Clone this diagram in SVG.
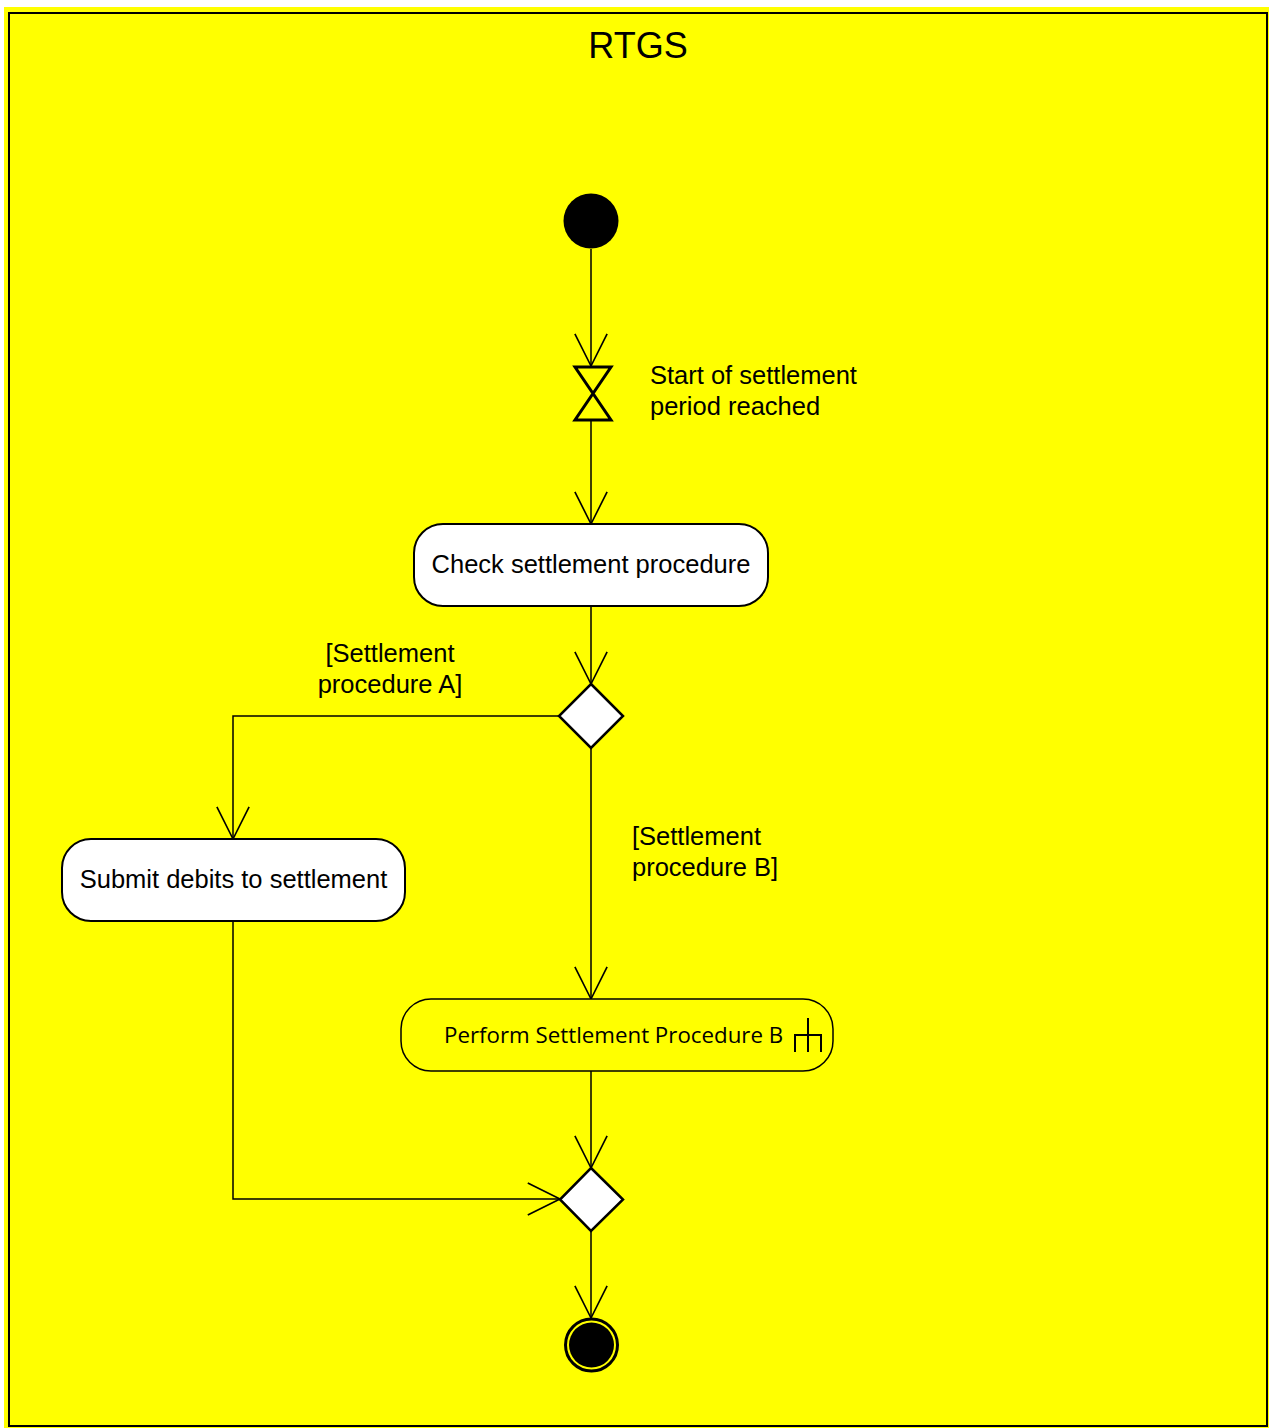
<svg xmlns="http://www.w3.org/2000/svg" width="1269" height="1428" viewBox="0 0 1269 1428">
<style>
.lbl{font-family:"Liberation Sans",Arial,sans-serif;font-size:25.5px;fill:#000}
.act{fill:#fff;stroke:#000;stroke-width:2}
.dec{fill:#fff;stroke:#000;stroke-width:2.5}
.conn{fill:none;stroke:#000;stroke-width:1.5;marker-end:url(#arr)}
</style>
<defs>
<marker id="arr" markerUnits="userSpaceOnUse" markerWidth="40" markerHeight="40" viewBox="-32 -18 36 36" refX="0" refY="0" orient="auto">
<path d="M-29,-14.5 L0,0 L-29,14.5" fill="none" stroke="#000" stroke-width="1.5"/>
</marker>
</defs>
<rect x="0" y="0" width="1269" height="1428" fill="#fff"/>
<g id="frame">
<rect x="4" y="7" width="1265" height="1421" fill="#ffff00"/>
<rect x="9" y="13" width="1258" height="1413" fill="none" stroke="#000" stroke-width="2"/>
<text x="638" y="58" class="lbl" style="font-size:36px" text-anchor="middle">RTGS</text>
</g>
<g id="connectors">
<path class="conn" d="M591,249 V366"/>
<path class="conn" d="M591,421 V524"/>
<path class="conn" d="M591,606 V684"/>
<path class="conn" d="M559,716 H233 V839"/>
<path class="conn" d="M591,748 V999"/>
<path class="conn" d="M233,921 V1199 H560"/>
<path class="conn" d="M591,1071 V1168"/>
<path class="conn" d="M591,1231 V1318"/>
</g>
<g id="start">
<circle cx="591" cy="221" r="27.5" fill="#000"/>
</g>
<g id="timer">
<path d="M575,367 H611 L575,420 H611 Z" fill="none" stroke="#000" stroke-width="3" stroke-linejoin="miter"/>
<text class="lbl" x="650" y="384">Start of settlement</text>
<text class="lbl" x="650" y="415">period reached</text>
</g>
<g id="check">
<rect class="act" x="414" y="524" width="354" height="82" rx="29" ry="29"/>
<text class="lbl" x="591" y="573" text-anchor="middle">Check settlement procedure</text>
</g>
<g id="decision1">
<path class="dec" d="M591,684 L623,716 L591,748 L559,716 Z"/>
</g>
<g id="guardA">
<text class="lbl" x="390" y="662" text-anchor="middle">[Settlement</text>
<text class="lbl" x="390" y="693" text-anchor="middle">procedure A]</text>
</g>
<g id="guardB">
<text class="lbl" x="632" y="845">[Settlement</text>
<text class="lbl" x="632" y="876">procedure B]</text>
</g>
<g id="submit">
<rect class="act" x="62" y="839" width="343" height="82" rx="29" ry="29"/>
<text class="lbl" x="233.5" y="888" text-anchor="middle">Submit debits to settlement</text>
</g>
<g id="performB">
<rect x="401" y="999" width="432" height="72" rx="30" ry="30" fill="#ffff00" stroke="#000" stroke-width="1.5"/>
<text x="444" y="1043" style="font-family:'Open Sans','Noto Sans',sans-serif;font-size:22.3px" fill="#000">Perform Settlement Procedure B</text>
<path d="M808,1018 V1052 M795,1052 V1035 H821 V1052" fill="none" stroke="#000" stroke-width="2"/>
</g>
<g id="decision2">
<path class="dec" d="M591,1168 L623,1199.5 L591,1231 L560,1199.5 Z"/>
</g>
<g id="end">
<circle cx="591.5" cy="1345" r="26" fill="#ffff00" stroke="#000" stroke-width="3"/>
<circle cx="591.5" cy="1345" r="22.5" fill="#000"/>
</g>
</svg>
